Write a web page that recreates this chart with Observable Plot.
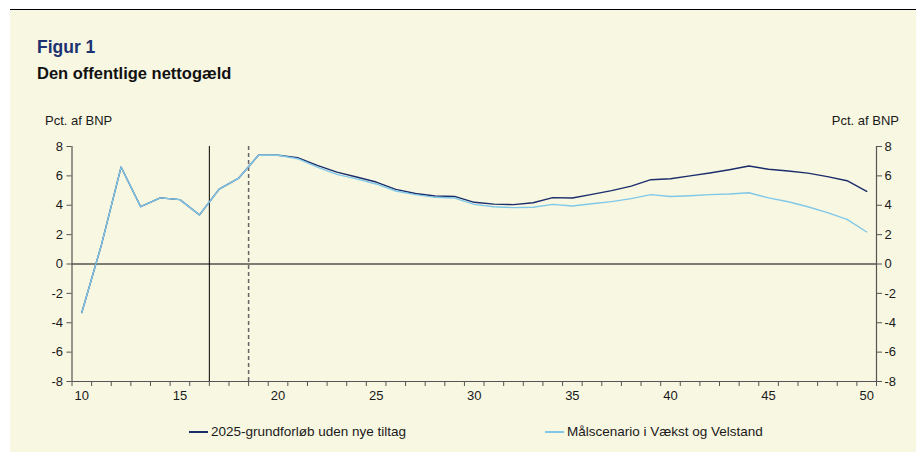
<!DOCTYPE html>
<html>
<head>
<meta charset="utf-8">
<script src="https://cdn.jsdelivr.net/npm/d3@7"></script>
<script src="https://cdn.jsdelivr.net/npm/@observablehq/plot@0.6"></script>
<style>
  html, body { margin: 0; padding: 0; background: #ffffff; }
  body { width: 916px; height: 452px; overflow: hidden; font-family: Arial, "Liberation Sans", Helvetica, sans-serif; }
  #frame { position: absolute; left: 10px; top: 9px; width: 906px; height: 443px; background: #f8f7e2; border-top: 1.5px solid #000; box-sizing: border-box; }
  .abs { position: absolute; white-space: nowrap; color: #1a1a1a; }
  #title { left: 27px; top: 27px; font-size: 17.5px; font-weight: bold; color: #1c3170; }
  #subtitle { left: 27px; top: 54px; font-size: 16.5px; font-weight: bold; color: #111; }
  #unitL { left: 35px; top: 103px; font-size: 13px; }
  #unitR { right: 17px; top: 103px; font-size: 13px; }
  #chart { position: absolute; left: 0px; top: 101px; }
  .leg { position: absolute; top: 414px; font-size: 13.5px; display: flex; align-items: center; color: #1a1a1a; }
  .leg span.sw { display: inline-block; width: 19px; height: 0; border-top: 2px solid; margin-right: 3px; }
</style>
</head>
<body>
<div id="frame">
  <div id="title" class="abs">Figur 1</div>
  <div id="subtitle" class="abs">Den offentlige nettogæld</div>
  <div id="unitL" class="abs">Pct. af BNP</div>
  <div id="unitR" class="abs">Pct. af BNP</div>
  <div id="chart"></div>
  <div class="leg" id="leg1" style="left:179px"></div>
  <div class="leg" id="leg2" style="left:535px"></div>
</div>
<script>
// ---- data ----
const years = [10,11,12,13,14,15,16,17,18,19,20,21,22,23,24,25,26,27,28,29,30,31,32,33,34,35,36,37,38,39,40,41,42,43,44,45,46,47,48,49,50];
const grundforloeb = [-3.3,1.3,6.6,3.9,4.5,4.38,3.34,5.1,5.85,7.4,7.4,7.24,6.72,6.26,5.92,5.58,5.08,4.8,4.63,4.6,4.2,4.08,4.04,4.17,4.52,4.49,4.74,5.0,5.3,5.74,5.8,6.0,6.2,6.42,6.67,6.45,6.33,6.19,5.95,5.67,4.95];
const maalscenario = [-3.3,1.3,6.6,3.9,4.5,4.38,3.34,5.1,5.85,7.4,7.4,7.17,6.6,6.1,5.8,5.45,4.97,4.72,4.54,4.49,4.06,3.9,3.84,3.86,4.06,3.95,4.1,4.25,4.45,4.72,4.6,4.65,4.72,4.77,4.85,4.5,4.24,3.9,3.5,3.04,2.18];
const seriesNames = ["2025-grundforløb uden nye tiltag", "Målscenario i Vækst og Velstand"];
const seriesColors = ["#1b2d6b", "#80c8e8"];
const xTickLabels = [10,15,20,25,30,35,40,45,50];
const yTicks = [-8,-6,-4,-2,0,2,4,6,8];
const solidDivider = 16.5;
const dashedDivider = 18.5;

const rows = [];
years.forEach((yr, i) => {
  rows.push({year: yr, value: grundforloeb[i], series: seriesNames[0]});
});
years.forEach((yr, i) => {
  rows.push({year: yr, value: maalscenario[i], series: seriesNames[1]});
});
const xMin = years[0] - 0.5, xMax = years[years.length - 1] + 0.5;
const boundaries = years.map(y => y - 0.5).concat([xMax]);

const axisGray = "#555";
const plot = Plot.plot({
  width: 906,
  height: 300,
  marginTop: 35,
  marginBottom: 30,
  marginLeft: 61.5,
  marginRight: 40,
  style: {background: "transparent", fontSize: "13px", fontFamily: "Arial, 'Liberation Sans', Helvetica, sans-serif", color: "#1a1a1a"},
  x: {domain: [xMin, xMax], label: null},
  y: {domain: [-8, 8], label: null},
  color: {domain: seriesNames, range: seriesColors},
  marks: [
    Plot.ruleX([solidDivider], {stroke: "#000", strokeWidth: 1}),
    Plot.ruleX([dashedDivider], {stroke: "#666", strokeWidth: 1.5, strokeDasharray: "4,3"}),
    Plot.ruleY([0], {stroke: "#000", strokeWidth: 1}),
    Plot.ruleY([-8], {stroke: axisGray, strokeWidth: 1.2}),
    Plot.ruleX([xMin], {stroke: axisGray, strokeWidth: 1.2}),
    Plot.ruleX([xMax], {stroke: axisGray, strokeWidth: 1.2}),
    Plot.axisY({anchor: "left", ticks: yTicks, tickSize: 5, tickPadding: 4, stroke: axisGray, fill: "#1a1a1a", label: null, tickFormat: d => String(d).replace("−", "-")}),
    Plot.axisY({anchor: "right", ticks: yTicks, tickSize: 5, tickPadding: 3, stroke: axisGray, fill: "#1a1a1a", label: null, tickFormat: d => String(d)}),
    Plot.axisX({ticks: boundaries, tickSize: 5, tickFormat: () => "", stroke: axisGray, label: null}),
    Plot.axisX({ticks: xTickLabels, tickSize: 0, tickPadding: 9, fill: "#1a1a1a", label: null}),
    Plot.line(rows.filter(d => d.series === seriesNames[0]), {x: "year", y: "value", stroke: "series", strokeWidth: 1.4}),
    Plot.line(rows.filter(d => d.series === seriesNames[1]), {x: "year", y: "value", stroke: "series", strokeWidth: 1.4})
  ]
});
document.getElementById("chart").appendChild(plot);

["leg1", "leg2"].forEach((id, i) => {
  const el = document.getElementById(id);
  const sw = document.createElement("span");
  sw.className = "sw";
  sw.style.borderTopColor = seriesColors[i];
  el.appendChild(sw);
  const t = document.createElement("span");
  t.textContent = seriesNames[i];
  el.appendChild(t);
});
</script>
</body>
</html>
